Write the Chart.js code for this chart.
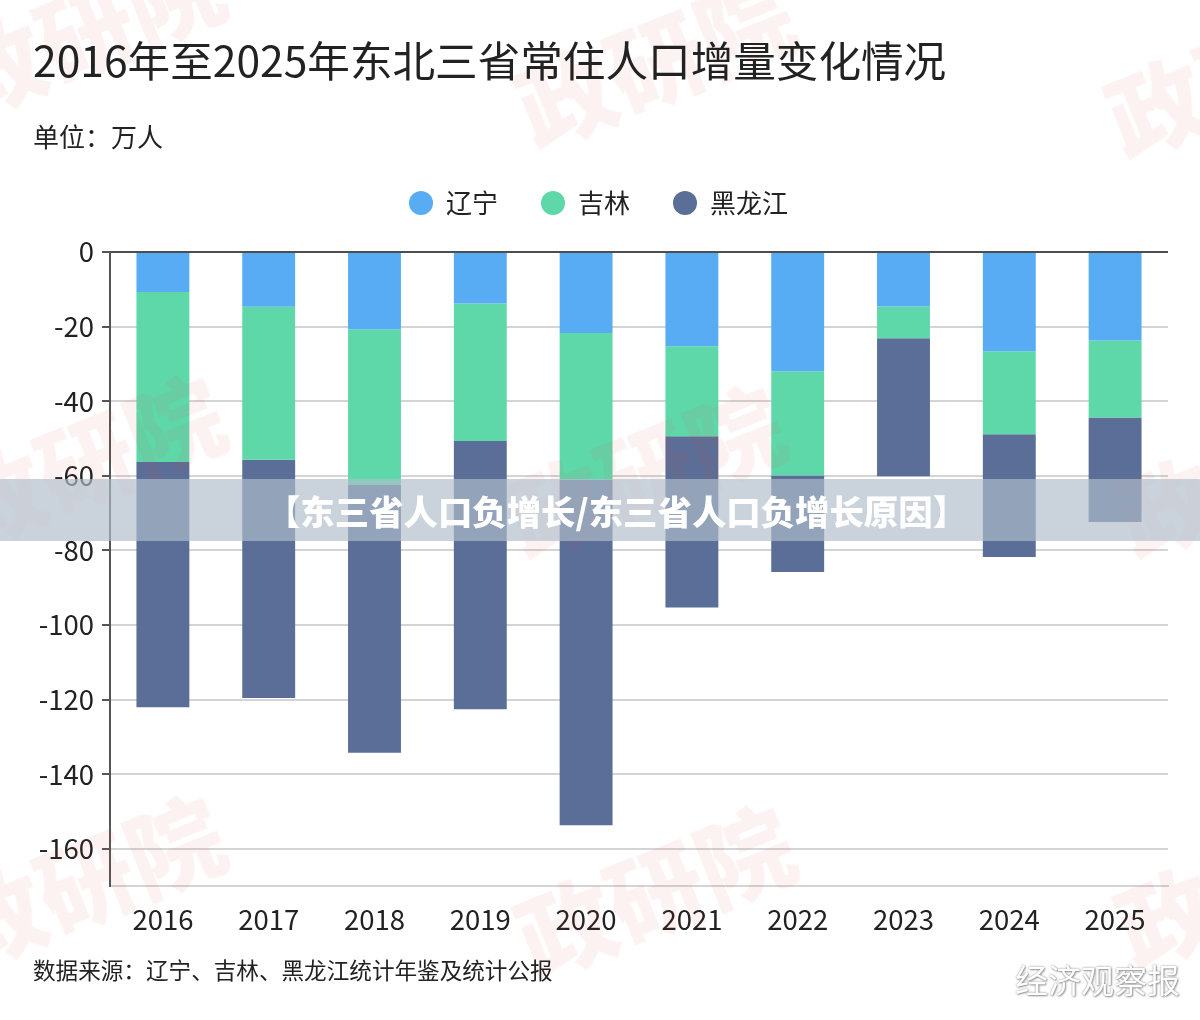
<!DOCTYPE html>
<html><head><meta charset="utf-8">
<script src="https://cdn.jsdelivr.net/npm/chart.js@4/dist/chart.umd.min.js"></script>
<style>
html,body{margin:0;padding:0;background:#fff;}
body{width:1200px;height:1020px;overflow:hidden;position:relative;font-family:"Noto Sans CJK SC","Noto Sans",sans-serif;}
canvas{position:absolute;left:0;top:0;}
.t{position:absolute;color:#222;white-space:nowrap;line-height:1;}
.wm{position:absolute;font-weight:900;font-size:96px;color:rgba(225,60,60,0.065);transform:rotate(-22deg);white-space:nowrap;pointer-events:none;line-height:1;}
#banner{position:absolute;left:0;top:479px;width:1200px;height:62px;background:rgba(176,189,203,0.67);}
#bannerText{position:absolute;left:0;top:479px;width:1200px;height:62px;line-height:62px;text-align:center;padding-left:33px;box-sizing:border-box;color:#fff;font-weight:900;font-size:34.4px;}
#mark{position:absolute;left:1015px;top:963px;font-size:33px;color:#fff;line-height:1;text-shadow:0 0 2px #888,1px 1px 2px #999;}
</style></head>
<body>
<canvas id="c" width="1200" height="1020"></canvas>
<div class="wm" style="left:-60px;top:-20px;">政研院</div>
<div class="wm" style="left:510px;top:10px;">政研院</div>
<div class="wm" style="left:1100px;top:20px;">政研院</div>
<div class="wm" style="left:-60px;top:410px;">政研院</div>
<div class="wm" style="left:500px;top:420px;">政研院</div>
<div class="wm" style="left:1110px;top:420px;">政研院</div>
<div class="wm" style="left:-60px;top:830px;">政研院</div>
<div class="wm" style="left:510px;top:840px;">政研院</div>
<div class="wm" style="left:1110px;top:830px;">政研院</div>
<div class="t" style="left:33px;top:38px;font-size:42.6px;">2016年至2025年东北三省常住人口增量变化情况</div>
<div class="t" style="left:33px;top:123px;font-size:26px;">单位：万人</div>
<div class="t" style="left:33px;top:959px;font-size:22.6px;">数据来源：辽宁、吉林、黑龙江统计年鉴及统计公报</div>
<div id="banner"></div>
<div id="bannerText">【东三省人口负增长/东三省人口负增长原因】</div>
<div id="mark">经济观察报</div>
<script>
const years = ['2016','2017','2018','2019','2020','2021','2022','2023','2024','2025'];
const liaoning = [-10.7, -14.7, -20.7, -13.8, -21.7, -25.3, -32.0, -14.6, -26.6, -23.7];
const jilin = [-45.6, -41.0, -41.8, -36.9, -39.4, -24.1, -27.9, -8.5, -22.3, -20.7];
const heilongjiang = [-65.8, -63.9, -71.8, -71.9, -92.6, -45.9, -25.9, -37.0, -32.9, -28.0];
const seriesNames = ['辽宁','吉林','黑龙江'];
const colors = ['#58acf4','#5fd8a9','#5a6e97'];
const yMin = -170, yMax = 0, yStep = 20;

const FONT = '"Noto Sans CJK SC","Noto Sans",sans-serif';
const legendTweak = {
  id: 'legendTweak',
  beforeInit(chart) {
    const lg = chart.legend;
    const fit = lg.fit;
    lg.fit = function () { fit.call(this); this.height += 26; };
  },
  afterLayout(chart) {
    chart.legend.left += 14.5;
    chart.legend.right += 14.5;
  }
};
new Chart(document.getElementById('c'), {
  type: 'bar',
  data: {
    labels: years,
    datasets: [liaoning, jilin, heilongjiang].map((d, i) => ({
      label: seriesNames[i], data: d, backgroundColor: colors[i],
      borderWidth: 0, barPercentage: 0.5, categoryPercentage: 1.0
    }))
  },
  plugins: [legendTweak],
  options: {
    responsive: false, animation: false,
    layout: { padding: { top: 147, right: 32, bottom: 67, left: 0 } },
    plugins: {
      legend: {
        position: 'top',
        labels: {
          usePointStyle: true, pointStyle: 'circle', boxWidth: 24, boxHeight: 17,
          padding: 43, color: '#222', font: { size: 26, family: FONT }
        }
      },
      tooltip: { enabled: false }
    },
    scales: {
      x: {
        stacked: true,
        grid: { display: true, drawOnChartArea: false, drawTicks: false },
        border: { display: true, color: '#d4d4d4', width: 2 },
        ticks: { color: '#222', font: { size: 27.5, family: FONT }, padding: 17 }
      },
      y: {
        stacked: true, min: yMin, max: yMax,
        afterFit(s) { s.width = 110; },
        ticks: { stepSize: yStep, includeBounds: false, color: '#222', font: { size: 27.5, family: FONT }, padding: 8 },
        grid: {
          color: ctx => (ctx.tick && ctx.tick.value === 0) ? '#4d4d4d' : '#d4d4d4',
          lineWidth: 2, tickLength: 8, tickColor: '#555'
        },
        border: { color: '#555', width: 2 }
      }
    }
  }
});
</script>
</body></html>
